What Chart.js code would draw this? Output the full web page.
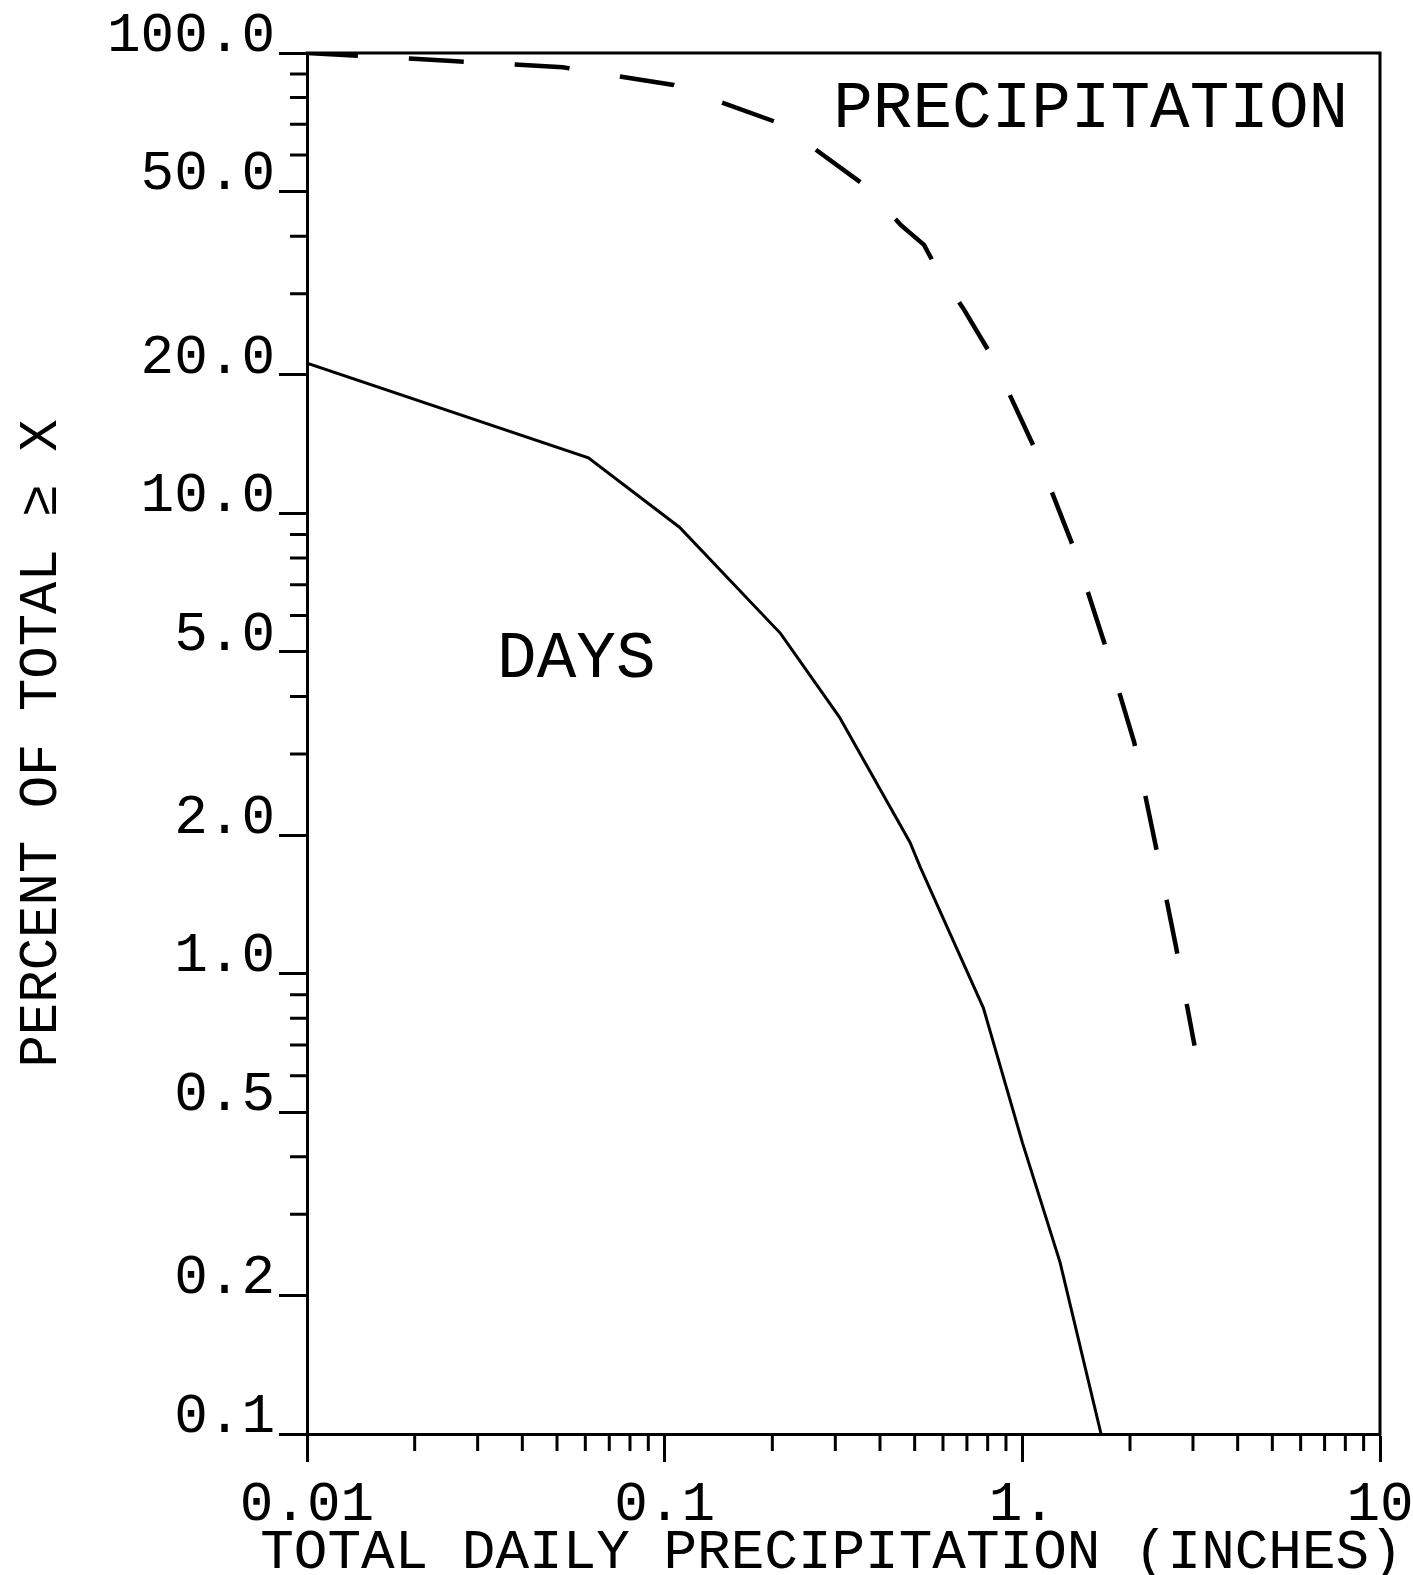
<!DOCTYPE html>
<html>
<head>
<meta charset="utf-8">
<script src="https://cdn.jsdelivr.net/npm/chart.js@4.4.1/dist/chart.umd.min.js"></script>
<style>
html,body{margin:0;padding:0;background:#fff;}
#wrap{width:1413px;height:1575px;position:relative;}
</style>
</head>
<body>
<div id="wrap"><canvas id="c"></canvas></div>
<script>
// ---- data ----
const daysX = [0.01, 0.0612, 0.110, 0.211, 0.308, 0.485, 0.519, 0.778, 1.00, 1.275, 1.66];
const daysY = [21.2, 13.2, 9.33, 5.48, 3.61, 1.93, 1.70, 0.843, 0.430, 0.236, 0.1];
const precipX = [0.01, 0.0248, 0.0519, 0.106, 0.210, 0.367, 0.457, 0.531, 0.573, 0.689, 0.820, 1.089, 1.384, 1.698, 2.055, 2.349, 2.685, 3.03];
const precipY = [100, 96.2, 93.1, 85.2, 70.3, 51.2, 42.3, 38.3, 34.3, 27.6, 22.0, 13.7, 8.51, 5.21, 3.18, 1.93, 1.151, 0.698];

const xMajorTicks = [0.01, 0.1, 1, 10];
const xTickLabels = ['0.01', '0.1', '1.', '10'];
const xMinorTicks = [0.02, 0.03, 0.04, 0.05, 0.06, 0.07, 0.08, 0.09,
                     0.2, 0.3, 0.4, 0.5, 0.6, 0.7, 0.8, 0.9,
                     2, 3, 4, 5, 6, 7, 8, 9];
const yMajorTicks = [0.1, 0.2, 0.5, 1, 2, 5, 10, 20, 50, 100];
const yTickLabels = ['0.1', '0.2', '0.5', '1.0', '2.0', '5.0', '10.0', '20.0', '50.0', '100.0'];
const yMinorTicks = [0.3, 0.4, 0.6, 0.7, 0.8, 0.9, 3, 4, 6, 7, 8, 9, 30, 40, 60, 70, 80, 90];

const xTitle = 'TOTAL DAILY PRECIPITATION (INCHES)';
const yTitle = 'PERCENT OF TOTAL \u2265 X';
const noteTexts = ['PRECIPITATION', 'DAYS'];
const noteX = [0.296, 0.034];
const noteY = [69, 4.4];

// ---- chart ----
const FONT = '"Liberation Mono", "DejaVu Sans Mono", monospace';
Chart.defaults.font.family = FONT;
Chart.defaults.color = '#000';

const decor = {
  id: 'decor',
  afterDraw(chart) {
    const {ctx, chartArea: a, scales: {x, y}} = chart;
    ctx.save();
    ctx.strokeStyle = '#000';
    ctx.lineWidth = 3;
    ctx.lineCap = 'square';
    ctx.beginPath();
    ctx.moveTo(a.left, a.top);
    ctx.lineTo(a.right, a.top);
    ctx.lineTo(a.right, a.bottom);
    ctx.stroke();
    ctx.lineCap = 'butt';
    ctx.beginPath();
    yMinorTicks.forEach(v => {
      const py = y.getPixelForValue(v);
      ctx.moveTo(a.left - 17, py); ctx.lineTo(a.left, py);
    });
    xMinorTicks.forEach(v => {
      const px = x.getPixelForValue(v);
      ctx.moveTo(px, a.bottom); ctx.lineTo(px, a.bottom + 17);
    });
    ctx.stroke();
    ctx.fillStyle = '#000';
    ctx.font = '66px ' + FONT;
    ctx.textAlign = 'left';
    ctx.textBaseline = 'alphabetic';
    noteTexts.forEach((t, i) => {
      ctx.fillText(t, x.getPixelForValue(noteX[i]), y.getPixelForValue(noteY[i]));
    });
    // x-axis title (drawn unsqueezed; wider than the plot area as in the original)
    ctx.font = '56px ' + FONT;
    ctx.textAlign = 'center';
    ctx.fillText(xTitle, (a.left + a.right) / 2 - 12, chart.height - 7);
    ctx.restore();
  }
};

new Chart(document.getElementById('c'), {
  type: 'line',
  data: {
    datasets: [
      {
        label: 'DAYS',
        data: daysX.map((v, i) => ({x: v, y: daysY[i]})),
        borderColor: '#000',
        borderWidth: 3,
        pointRadius: 0,
        tension: 0,
        fill: false
      },
      {
        label: 'PRECIPITATION',
        data: precipX.map((v, i) => ({x: v, y: precipY[i]})),
        borderColor: '#000',
        borderWidth: 4.5,
        borderDash: [55, 51],
        borderDashOffset: 4,
        pointRadius: 0,
        tension: 0,
        fill: false
      }
    ]
  },
  options: {
    responsive: true,
    maintainAspectRatio: false,
    animation: false,
    events: [],
    layout: {padding: {top: 53, right: 33, left: 0, bottom: 0}},
    plugins: {legend: {display: false}, tooltip: {enabled: false}},
    scales: {
      x: {
        type: 'logarithmic',
        min: 0.01, max: 10,
        afterBuildTicks: s => { s.ticks = xMajorTicks.map(v => ({value: v})); },
        afterFit: s => { s.height = 141; s.paddingLeft = 0; s.paddingRight = 0; },
        ticks: {
          autoSkip: false, maxRotation: 0, minRotation: 0, padding: 10,
          color: '#000', font: {size: 56},
          callback: (v) => xTickLabels[xMajorTicks.indexOf(v)]
        },
        grid: {drawOnChartArea: false, drawTicks: true, tickLength: 28, tickWidth: 3, tickColor: '#000'},
        border: {display: true, color: '#000', width: 3},
        title: {display: false, text: xTitle}
      },
      y: {
        type: 'logarithmic',
        min: 0.1, max: 100,
        afterBuildTicks: s => { s.ticks = yMajorTicks.map(v => ({value: v})); },
        afterFit: s => { s.width = 307; s.paddingTop = 0; s.paddingBottom = 0; },
        ticks: {
          autoSkip: false, padding: 4, labelOffset: -17,
          color: '#000', font: {size: 56},
          callback: (v) => yTickLabels[yMajorTicks.indexOf(v)]
        },
        grid: {drawOnChartArea: false, drawTicks: true, tickLength: 28, tickWidth: 3, tickColor: '#000'},
        border: {display: true, color: '#000', width: 3},
        title: {display: true, text: yTitle, color: '#000', font: {size: 54}, padding: {top: 9, bottom: 0}}
      }
    }
  },
  plugins: [decor]
});
</script>
</body>
</html>
